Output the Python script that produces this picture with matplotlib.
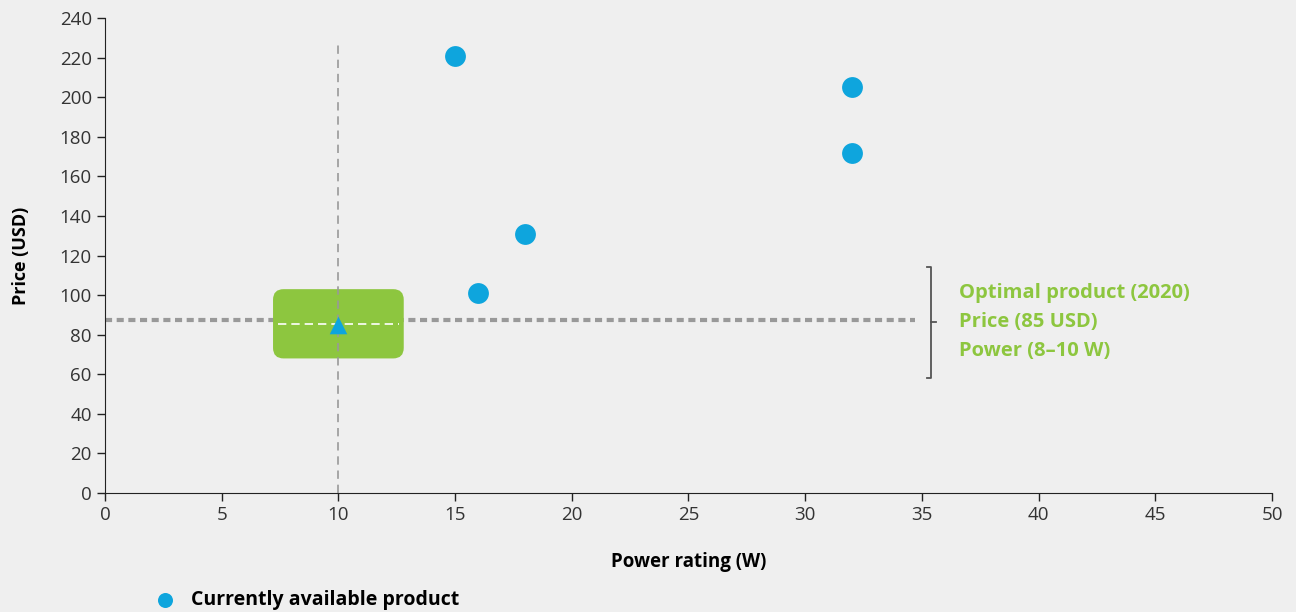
import matplotlib.pyplot as plt
from matplotlib.patches import FancyBboxPatch

plt.rcParams['font.family'] = ['Open Sans', 'DejaVu Sans']

# currently available products
power = [15, 32, 32, 18, 16]
price = [221, 205, 172, 131, 101]

# optimal product (2020)
opt_power = [10]
opt_price = [85]
opt_range_w = [7.2, 12.8]
opt_range_usd = [68, 103]

notes = ['Optimal product (2020)', 'Price (85 USD)', 'Power (8\u201310 W)']

blue = '#0ea5dd'
green = '#8dc63f'
bg = '#efefef'

fig = plt.figure(figsize=(12.96, 6.12), dpi=100, facecolor=bg)
ax = fig.add_axes([0.081, 0.1944, 0.9005, 0.7762], facecolor=bg)

# green box
box = FancyBboxPatch((opt_range_w[0], opt_range_usd[0]),
                     opt_range_w[1] - opt_range_w[0], opt_range_usd[1] - opt_range_usd[0],
                     boxstyle='round,pad=0,rounding_size=0.45', mutation_aspect=11.8,
                     fc=green, ec='none', zorder=2)
ax.add_patch(box)

# reference lines
ax.plot([0, 34.7], [87.3, 87.3], color='#999999', lw=3, ls=(0, (1.7, 1.1)),
        solid_capstyle='butt', dash_capstyle='butt', zorder=1)
ax.plot([opt_range_w[0] + 0.2, opt_range_w[1] - 0.2], [85.6, 85.6], color='white', lw=1.2,
        ls=(0, (5, 3)), zorder=3)
ax.plot([10, 10], [0, 227], color='#999999', lw=1.2, ls=(0, (5, 3.5)), zorder=3)

ax.scatter(power, price, s=225, color=blue, zorder=4, linewidths=0,
           label='Currently available product')
ax.scatter(opt_power, opt_price, s=160, marker='^', color=blue, zorder=4, linewidths=0)

# bracket
bx = 35.4
ax.plot([bx - 0.2, bx, bx, bx - 0.2], [114, 114, 58, 58], color='#555555', lw=1.3,
        clip_on=False)
ax.plot([bx, bx + 0.2], [86.3, 86.3], color='#555555', lw=1.3)
for i, t in enumerate(notes):
    ax.text(36.6, 101 - i * 14.7, t, color=green, fontsize=14.5, fontweight='bold',
            va='center', ha='left')

ax.set_xlim(0, 50)
ax.set_ylim(0, 240)
ax.set_xticks(range(0, 51, 5))
ax.set_yticks(range(0, 241, 20))
for s in ['top', 'right']:
    ax.spines[s].set_visible(False)
ax.spines['left'].set_color('#222222')
ax.spines['bottom'].set_color('#222222')
ax.tick_params(direction='out', length=6, width=1, colors='#222222', labelsize=13.5,
               labelcolor='#333333')
ax.set_xlabel('Power rating (W)', fontsize=13.5, fontweight='bold', labelpad=20)
ax.set_ylabel('Price (USD)', fontsize=13, fontweight='bold', labelpad=21)

ax.legend(loc='center left', bbox_to_anchor=(0.1125, 0.02), bbox_transform=fig.transFigure,
          frameon=False, prop={'weight': 'bold', 'size': 14},
          handletextpad=0.3, markerscale=0.72, borderpad=0, borderaxespad=0)

fig.savefig('out.png', dpi=100, facecolor=bg)
